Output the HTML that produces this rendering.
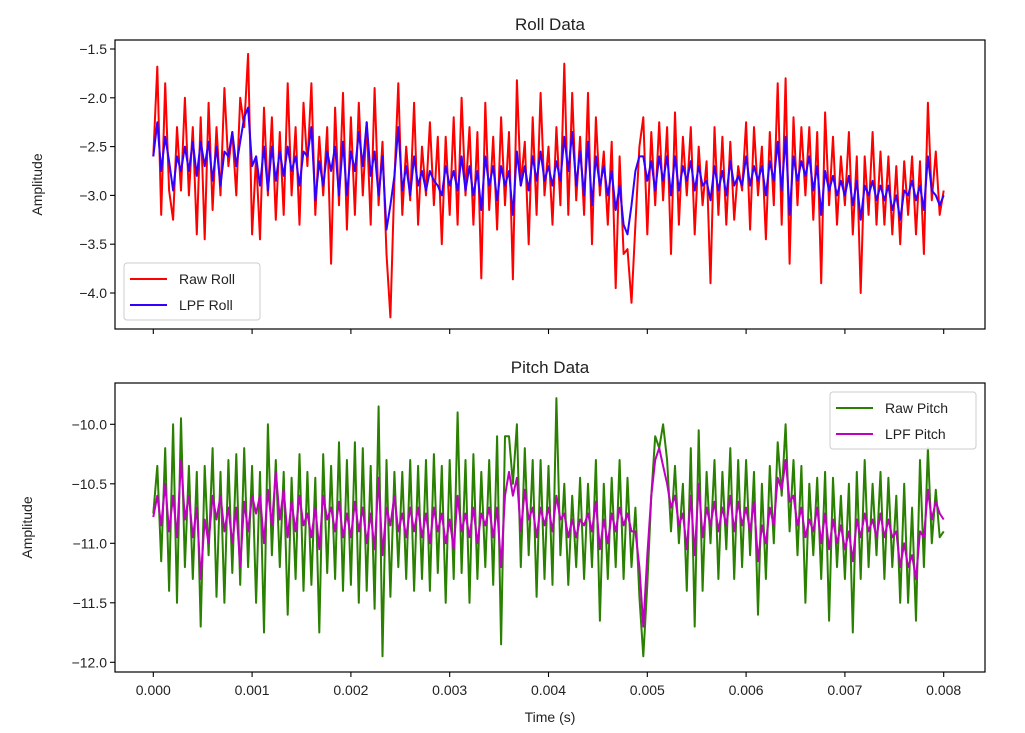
<!DOCTYPE html>
<html><head><meta charset="utf-8"><style>
body{margin:0;background:#fff;}
svg{display:block;font-family:"Liberation Sans","DejaVu Sans",sans-serif;}
</style></head><body>
<svg id="chart" width="1025" height="733" viewBox="0 0 1025 733" xmlns="http://www.w3.org/2000/svg">
<rect width="1025" height="733" fill="#fff"/>
</svg>
<script>
const tStep = 0.00004;
const xTicks = [0,0.001,0.002,0.003,0.004,0.005,0.006,0.007,0.008];
const xTickLabels = ["0.000","0.001","0.002","0.003","0.004","0.005","0.006","0.007","0.008"];
const rollTicks = [-1.5,-2.0,-2.5,-3.0,-3.5,-4.0];
const rollTickLabels = ["\u22121.5","\u22122.0","\u22122.5","\u22123.0","\u22123.5","\u22124.0"];
const pitchTicks = [-10.0,-10.5,-11.0,-11.5,-12.0];
const pitchTickLabels = ["\u221210.0","\u221210.5","\u221211.0","\u221211.5","\u221212.0"];
const rawRoll = [
-2.6,-1.68,-3.2,-1.85,-2.95,-3.25,-2.3,-2.95,-2.0,-3.0,
-2.3,-3.4,-2.2,-3.45,-2.05,-3.15,-2.3,-3.0,-1.9,-2.7,
-2.35,-3.0,-2.0,-2.3,-1.55,-3.4,-2.6,-3.45,-2.1,-3.0,
-2.2,-3.25,-2.35,-3.2,-1.85,-3.0,-2.3,-3.3,-2.05,-2.7,
-1.85,-3.2,-2.4,-3.0,-2.3,-3.7,-2.1,-3.1,-1.95,-3.35,
-2.2,-3.2,-2.05,-3.0,-2.25,-3.3,-1.9,-3.1,-2.45,-3.6,
-4.25,-2.85,-1.85,-3.2,-2.5,-3.05,-2.05,-3.3,-2.5,-3.0,
-2.25,-3.1,-2.4,-3.5,-2.4,-3.2,-2.2,-3.3,-2.0,-3.0,
-2.3,-3.3,-2.35,-3.85,-2.05,-3.15,-2.4,-3.35,-2.2,-3.1,
-2.35,-3.86,-1.82,-2.9,-2.45,-3.5,-2.2,-3.2,-1.95,-3.0,
-2.5,-3.3,-2.3,-3.1,-1.65,-3.2,-1.95,-3.05,-2.4,-3.2,
-1.95,-3.5,-2.2,-3.0,-2.55,-3.3,-2.45,-3.95,-2.6,-3.6,
-3.55,-4.1,-3.3,-2.5,-2.2,-3.4,-2.35,-3.1,-2.25,-3.05,
-2.3,-3.6,-2.15,-3.3,-2.4,-3.0,-2.3,-3.4,-2.5,-3.1,
-2.65,-3.9,-2.3,-3.2,-2.4,-3.3,-2.45,-3.25,-2.7,-2.95,
-2.25,-3.35,-2.3,-3.0,-2.5,-3.45,-2.35,-3.1,-1.85,-3.3,
-1.8,-3.7,-2.2,-3.1,-2.3,-3.0,-2.3,-3.25,-2.35,-3.9,
-2.15,-3.1,-2.4,-3.3,-2.6,-3.1,-2.35,-3.4,-2.6,-4.0,
-2.6,-3.2,-2.35,-3.3,-2.55,-3.3,-2.6,-3.4,-2.7,-3.5,
-2.65,-3.2,-2.6,-3.4,-2.65,-3.6,-2.05,-3.05,-2.55,-3.2,
-2.95];
const lpfRoll = [
-2.6,-2.25,-2.75,-2.4,-2.65,-2.95,-2.6,-2.75,-2.5,-2.75,
-2.45,-2.8,-2.45,-2.7,-2.45,-2.85,-2.5,-2.9,-2.55,-2.6,
-2.35,-2.7,-2.45,-2.2,-2.1,-2.7,-2.6,-2.9,-2.5,-2.95,
-2.5,-2.85,-2.55,-2.8,-2.5,-2.75,-2.6,-2.9,-2.55,-2.6,
-2.3,-3.05,-2.65,-2.9,-2.55,-2.75,-2.5,-3.0,-2.45,-3.0,
-2.55,-2.75,-2.35,-2.7,-2.25,-2.8,-2.55,-3.0,-2.6,-3.35,
-3.1,-2.8,-2.3,-2.95,-2.7,-3.0,-2.6,-2.9,-2.75,-2.95,
-2.75,-2.85,-2.9,-3.0,-2.7,-2.9,-2.75,-2.95,-2.6,-2.95,
-2.7,-3.0,-2.75,-3.15,-2.6,-2.9,-2.7,-3.05,-2.7,-2.9,
-2.75,-3.2,-2.55,-2.9,-2.7,-2.95,-2.6,-2.85,-2.55,-2.85,
-2.7,-2.9,-2.65,-2.85,-2.4,-2.75,-2.35,-2.9,-2.55,-3.0,
-2.45,-3.1,-2.6,-2.9,-2.7,-3.0,-2.75,-3.15,-2.9,-3.3,
-3.4,-3.1,-2.75,-2.6,-2.6,-2.85,-2.65,-2.95,-2.6,-2.85,
-2.6,-3.0,-2.6,-2.95,-2.7,-2.85,-2.65,-2.95,-2.7,-2.9,
-2.85,-3.05,-2.7,-2.95,-2.75,-3.0,-2.65,-2.9,-2.8,-2.9,
-2.6,-2.9,-2.7,-2.85,-2.7,-3.0,-2.65,-2.85,-2.45,-2.95,
-2.4,-3.2,-2.6,-2.85,-2.65,-2.8,-2.6,-2.95,-2.7,-3.2,
-2.75,-2.95,-2.8,-3.0,-2.85,-3.0,-2.8,-3.1,-2.85,-3.25,
-2.9,-3.0,-2.85,-3.05,-2.9,-3.05,-2.9,-3.15,-3.0,-3.25,
-2.95,-3.0,-2.85,-3.05,-2.9,-3.15,-2.6,-2.95,-3.0,-3.1,
-3.0];
const rawPitch = [
-10.75,-10.35,-11.15,-10.2,-11.4,-10.0,-11.5,-9.95,-11.2,-10.35,
-11.3,-10.4,-11.7,-10.35,-11.1,-10.2,-11.45,-10.4,-11.5,-10.3,
-11.25,-10.25,-11.35,-10.2,-11.2,-10.35,-11.5,-10.4,-11.75,-10.0,
-11.1,-10.3,-11.2,-10.4,-11.6,-10.45,-11.3,-10.25,-11.4,-10.4,
-11.35,-10.45,-11.75,-10.25,-11.25,-10.35,-11.3,-10.15,-11.4,-10.3,
-11.35,-10.15,-11.5,-10.2,-11.4,-10.35,-11.55,-9.85,-11.95,-10.3,
-11.45,-10.4,-11.2,-10.4,-11.3,-10.3,-11.4,-10.35,-11.3,-10.3,
-11.4,-10.25,-11.25,-10.35,-11.5,-10.3,-11.3,-9.9,-11.25,-10.3,
-11.5,-10.25,-11.3,-10.4,-11.2,-10.3,-11.35,-10.1,-11.85,-10.1,
-10.1,-10.5,-10.0,-11.2,-10.2,-11.1,-10.3,-11.45,-10.3,-11.3,
-10.35,-11.35,-9.78,-11.1,-10.5,-11.35,-10.6,-11.2,-10.45,-11.3,
-10.5,-11.2,-10.3,-11.65,-10.5,-11.3,-10.45,-11.2,-10.3,-11.3,
-10.45,-11.2,-10.7,-11.45,-11.95,-11.35,-10.6,-10.1,-10.2,-10.0,
-10.3,-10.9,-10.35,-11.0,-10.5,-11.4,-10.2,-11.7,-10.05,-11.4,
-10.4,-11.0,-10.3,-11.3,-10.4,-11.05,-10.2,-11.3,-10.3,-11.2,
-10.3,-11.1,-10.4,-11.6,-10.5,-11.3,-10.35,-11.0,-10.15,-10.6,
-10.0,-10.9,-10.3,-11.1,-10.35,-11.5,-10.5,-11.1,-10.45,-11.3,
-10.4,-11.65,-10.45,-11.2,-10.6,-11.3,-10.5,-11.75,-10.4,-11.3,
-10.3,-11.2,-10.5,-11.1,-10.4,-11.3,-10.45,-11.2,-10.6,-11.5,
-10.5,-11.5,-10.7,-11.65,-10.3,-11.2,-10.2,-11.0,-10.55,-10.95,
-10.9];
const lpfPitch = [
-10.78,-10.6,-10.85,-10.5,-10.9,-10.6,-10.95,-10.3,-10.8,-10.6,
-10.95,-10.7,-11.3,-10.8,-11.0,-10.6,-10.8,-10.6,-10.9,-10.7,
-11.0,-10.7,-11.2,-10.65,-10.9,-10.6,-10.75,-10.6,-11.0,-10.55,
-10.85,-10.4,-10.8,-10.55,-10.95,-10.65,-10.9,-10.6,-10.85,-10.75,
-10.95,-10.7,-11.05,-10.6,-10.8,-10.7,-10.9,-10.65,-10.95,-10.75,
-10.95,-10.65,-10.9,-10.7,-11.0,-10.75,-11.05,-10.45,-11.1,-10.7,
-10.85,-10.6,-10.9,-10.75,-10.95,-10.7,-10.9,-10.7,-10.95,-10.75,
-11.0,-10.7,-10.9,-10.75,-11.0,-10.8,-11.05,-10.6,-10.9,-10.75,
-10.95,-10.7,-11.0,-10.75,-10.85,-10.7,-10.95,-10.7,-11.2,-10.6,
-10.4,-10.6,-10.45,-10.9,-10.55,-10.8,-10.7,-10.95,-10.7,-10.85,
-10.7,-10.9,-10.6,-10.8,-10.75,-10.95,-10.8,-10.95,-10.8,-10.85,
-10.75,-10.9,-10.65,-11.05,-10.8,-11.0,-10.75,-10.9,-10.7,-10.85,
-10.75,-10.9,-10.9,-11.2,-11.7,-11.1,-10.6,-10.3,-10.2,-10.35,
-10.5,-10.7,-10.6,-10.85,-10.75,-11.05,-10.6,-11.1,-10.5,-10.95,
-10.7,-10.85,-10.65,-10.9,-10.7,-10.85,-10.6,-10.9,-10.65,-10.85,
-10.7,-10.9,-10.65,-11.15,-10.85,-11.0,-10.7,-10.85,-10.45,-10.55,
-10.3,-10.65,-10.6,-10.85,-10.7,-10.95,-10.8,-10.9,-10.7,-11.0,
-10.75,-11.05,-10.8,-11.0,-10.85,-11.05,-10.9,-11.15,-10.8,-10.95,
-10.75,-10.9,-10.8,-10.95,-10.75,-10.95,-10.8,-10.95,-10.9,-11.2,
-11.0,-11.2,-11.1,-11.3,-10.9,-10.95,-10.55,-10.8,-10.65,-10.75,
-10.8];

const NS = "http://www.w3.org/2000/svg";
const svg = document.getElementById("chart");
function mk(tag, attrs, parent){
  const e = document.createElementNS(NS, tag);
  for (const k in attrs) e.setAttribute(k, attrs[k]);
  (parent||svg).appendChild(e);
  return e;
}
const L = 115, R = 985;
function xScale(t){ return 153.3 + t * 98800; }
const panels = [
  {top:40,bottom:329,v0:-1.5,p0:49,ppu:97.6,ticks:rollTicks,labels:rollTickLabels,title:"Roll Data",ylabX:42,
   series:[[rawRoll,"#ff0000","raw-roll-line"],[lpfRoll,"#3300ff","lpf-roll-line"]],
   showX:false,name:"roll"},
  {top:383,bottom:672,v0:-10.0,p0:424.3,ppu:119,ticks:pitchTicks,labels:pitchTickLabels,title:"Pitch Data",ylabX:32,
   series:[[rawPitch,"#2a8000","raw-pitch-line"],[lpfPitch,"#bf00bf","lpf-pitch-line"]],
   showX:true,name:"pitch"}
];
panels.forEach(p=>{
  const g = mk("g",{});
  
  
  const yS = v => p.p0 + (p.v0 - v) * p.ppu;
  const clipId = "clip-" + p.name;
  const cp = mk("clipPath",{id:clipId}, g);
  mk("rect",{x:L,y:p.top,width:R-L,height:p.bottom-p.top}, cp);
  p.series.forEach(s=>{
    const pts = s[0].map((v,i)=>xScale(i*tStep).toFixed(1)+","+yS(v).toFixed(1)).join(" ");
    const pl = mk("polyline",{points:pts,fill:"none",stroke:s[1],"stroke-width":2,"stroke-linejoin":"round","clip-path":"url(#"+clipId+")"}, g);
    
    
  });
  const frame = mk("rect",{x:L,y:p.top,width:R-L,height:p.bottom-p.top,fill:"none",stroke:"#000","stroke-width":1.2}, g);
  
  
  p.ticks.forEach((v,i)=>{
    const y = yS(v);
    mk("line",{x1:L-5,x2:L,y1:y,y2:y,stroke:"#000","stroke-width":1.1}, g);
    const t = mk("text",{x:L-8,y:y+5,"text-anchor":"end","font-size":14,fill:"#222"}, g);
    t.textContent = p.labels[i];
    
    
  });
  xTicks.forEach((v,i)=>{
    const x = xScale(v);
    mk("line",{x1:x,x2:x,y1:p.bottom,y2:p.bottom+5,stroke:"#000","stroke-width":1.1}, g);
    if (p.showX){
      const t = mk("text",{x:x,y:p.bottom+23,"text-anchor":"middle","font-size":14,fill:"#222"}, g);
      t.textContent = xTickLabels[i];
      
      
    }
  });
  const ti = mk("text",{x:(L+R)/2,y:p.top-10,"text-anchor":"middle","font-size":17,fill:"#222"}, g);
  ti.textContent = p.title;
  
  
  const cy = (p.top+p.bottom)/2;
  const yl = mk("text",{x:p.ylabX,y:cy,"text-anchor":"middle","font-size":14,fill:"#222",transform:"rotate(-90 "+p.ylabX+" "+cy+")"}, g);
  yl.textContent = "Amplitude";
  
  
});
const xt = mk("text",{x:550,y:722,"text-anchor":"middle","font-size":14,fill:"#222"});
xt.textContent = "Time (s)";



function legend(x,y,w,entries,name){
  const g = mk("g",{});
  
  
  mk("rect",{x:x,y:y,width:w,height:57,rx:3,fill:"#fff","fill-opacity":0.85,stroke:"#ccc","stroke-width":1}, g);
  entries.forEach((e,i)=>{
    const ly = y+16+i*26;
    mk("line",{x1:x+6,x2:x+43,y1:ly,y2:ly,stroke:e[1],"stroke-width":2}, g);
    const t = mk("text",{x:x+55,y:ly+5,"font-size":14,fill:"#222"}, g);
    t.textContent = e[0];
    
    
  });
}
legend(124,263,136,[["Raw Roll","#ff0000"],["LPF Roll","#3300ff"]],"roll-legend");
legend(830,392,146,[["Raw Pitch","#2a8000"],["LPF Pitch","#bf00bf"]],"pitch-legend");
</script>
</body></html>
